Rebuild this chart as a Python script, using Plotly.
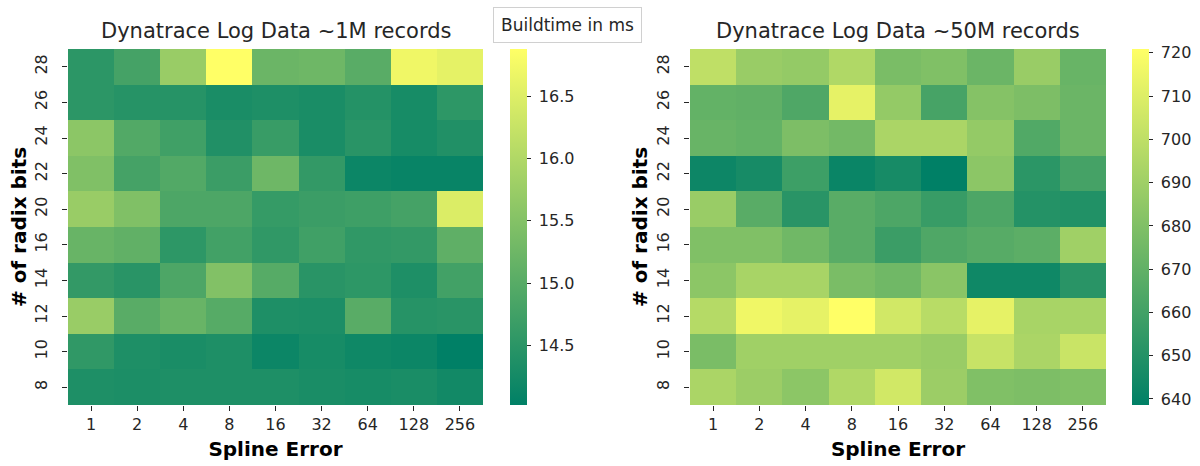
import plotly.graph_objects as go

W, H = 1200, 466

spline_error = ["1", "2", "4", "8", "16", "32", "64", "128", "256"]
radix_bits = ["28", "26", "24", "22", "20", "16", "14", "12", "10", "8"]

# Build time (ms), ~1M records; rows follow radix_bits (top to bottom)
buildtime_1m = [
    [14.51, 14.79, 15.74, 16.88, 15.22, 15.25, 15.02, 16.71, 16.59],
    [14.51, 14.45, 14.45, 14.31, 14.36, 14.31, 14.42, 14.28, 14.53],
    [15.59, 14.94, 14.74, 14.39, 14.65, 14.31, 14.48, 14.28, 14.39],
    [15.45, 14.79, 14.94, 14.68, 15.25, 14.59, 14.16, 14.11, 14.11],
    [15.74, 15.45, 14.88, 14.88, 14.62, 14.68, 14.71, 14.79, 16.48],
    [15.19, 15.11, 14.53, 14.76, 14.56, 14.74, 14.56, 14.59, 15.08],
    [14.59, 14.48, 14.88, 15.48, 14.99, 14.48, 14.53, 14.36, 14.76],
    [15.74, 15.02, 15.19, 14.99, 14.36, 14.33, 15.02, 14.45, 14.48],
    [14.56, 14.36, 14.31, 14.36, 14.16, 14.28, 14.19, 14.16, 14.02],
    [14.36, 14.33, 14.36, 14.36, 14.36, 14.31, 14.28, 14.31, 14.22],
]

# Build time (ms), ~50M records; rows follow radix_bits (top to bottom)
buildtime_50m = [
    [700.3, 688.0, 686.3, 695.4, 678.1, 679.8, 673.2, 688.0, 672.3],
    [670.7, 669.9, 664.1, 712.7, 686.3, 661.6, 681.4, 678.9, 673.2],
    [672.3, 670.7, 678.9, 675.6, 693.7, 693.7, 686.3, 664.9, 673.2],
    [642.7, 646.0, 658.4, 641.9, 646.0, 638.6, 683.9, 652.6, 660.8],
    [688.0, 667.4, 651.8, 667.4, 663.3, 656.7, 663.3, 650.1, 649.3],
    [679.8, 679.8, 674.8, 667.4, 657.5, 664.1, 666.6, 668.2, 690.4],
    [683.9, 692.9, 692.9, 678.1, 674.8, 683.0, 643.5, 643.5, 651.8],
    [697.0, 716.0, 712.7, 720.9, 706.1, 697.9, 712.7, 692.9, 692.9],
    [678.1, 690.4, 690.4, 690.4, 690.4, 688.0, 702.8, 693.7, 703.6],
    [693.7, 688.8, 683.9, 695.4, 706.1, 688.8, 679.8, 678.9, 679.8],
]

titles = ["Dynatrace Log Data ~1M records", "Dynatrace Log Data ~50M records"]

# matplotlib "summer" colormap
summer = [[0.0, "rgb(0,128,102)"], [1.0, "rgb(255,255,102)"]]

FONT = "DejaVu Sans"
TXT = "#262626"


def px(x):
    return x / W


def py(y):
    return 1 - y / H


top, bottom = 49, 405
panels = [
    dict(x0=68, x1=483, cb_x=510, ylab_x=19, z=buildtime_1m, dtick=0.5, fmt=".1f"),
    dict(x0=690, x1=1106, cb_x=1132, ylab_x=640, z=buildtime_50m, dtick=10, fmt="d"),
]

fig = go.Figure()
for i, p in enumerate(panels):
    sfx = "" if i == 0 else str(i + 1)
    fig.add_trace(go.Heatmap(
        x=spline_error,
        y=radix_bits[::-1],
        z=p["z"][::-1],
        colorscale=summer,
        xaxis="x" + sfx,
        yaxis="y" + sfx,
        xgap=0, ygap=0,
        colorbar=dict(
            x=px(p["cb_x"]), xanchor="left", xref="paper",
            y=py(bottom), yanchor="bottom", yref="paper",
            len=(bottom - top) / H, lenmode="fraction",
            thickness=17, thicknessmode="pixels",
            outlinewidth=0,
            ticks="outside", ticklen=4, tickcolor=TXT, tickwidth=1,
            dtick=p["dtick"], tickformat=p["fmt"],
            tickprefix="\u00a0",
            tickfont=dict(family=FONT, size=16, color=TXT),
            ypad=0, xpad=0,
        ),
    ))
    axis_common = dict(
        type="category", showgrid=False, zeroline=False, showline=False,
        ticks="outside", ticklen=5, tickwidth=1.2, tickcolor=TXT,
        tickfont=dict(family=FONT, size=16, color=TXT),
    )
    fig.layout["xaxis" + sfx] = dict(
        axis_common,
        domain=[px(p["x0"]), px(p["x1"])],
        anchor="y" + sfx,
        title=dict(text="<b>Spline Error</b>", standoff=8,
                   font=dict(family=FONT, size=20, color="black")),
    )
    fig.layout["yaxis" + sfx] = dict(
        axis_common,
        domain=[py(bottom), py(top)],
        anchor="x" + sfx,
        tickangle=-90,
        ticklabelstandoff=9,
    )
    # y-axis title
    fig.add_annotation(
        text="<b># of radix bits</b>", xref="paper", yref="paper",
        x=px(p["ylab_x"]), y=py((top + bottom) / 2),
        xanchor="center", yanchor="middle", textangle=-90, showarrow=False,
        font=dict(family=FONT, size=20, color="black"),
    )
    fig.add_annotation(
        text=titles[i], xref="paper", yref="paper",
        x=px((p["x0"] + p["x1"]) / 2), y=py(31),
        xanchor="center", yanchor="middle", showarrow=False,
        font=dict(family=FONT, size=21, color=TXT),
    )

# Legend-style label box for the colour scale
fig.add_annotation(
    text="Buildtime in ms", xref="paper", yref="paper",
    x=px(567), y=py(25), xanchor="center", yanchor="middle",
    showarrow=False,
    font=dict(family=FONT, size=17, color=TXT),
    bordercolor="#d0d0d0", borderwidth=1, borderpad=7, bgcolor="white",
)

fig.update_layout(
    width=W, height=H,
    margin=dict(l=0, r=0, t=0, b=0),
    paper_bgcolor="white", plot_bgcolor="white",
    showlegend=False,
)

fig.write_html("out.html")
